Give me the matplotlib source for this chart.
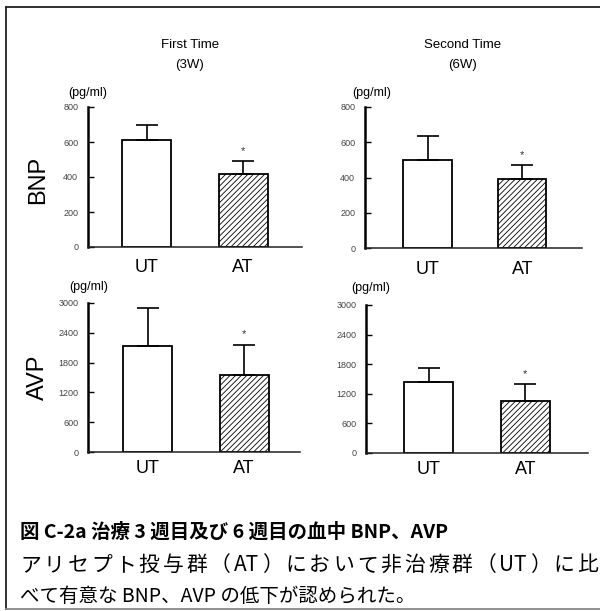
import matplotlib
matplotlib.use("Agg")
import matplotlib.pyplot as plt
from matplotlib.lines import Line2D

# Data
groups = ["UT", "AT"]
bnp_3w = [610, 420]
bnp_3w_sd = [85, 70]
bnp_6w = [497, 389]
bnp_6w_sd = [137, 80]
avp_3w = [2140, 1550]
avp_3w_sd = [750, 610]
avp_6w = [1430, 1060]
avp_6w_sd = [300, 330]

bnp_ticks = [0, 200, 400, 600, 800]
avp_ticks = [0, 600, 1200, 1800, 2400, 3000]

caption_title = "図 C-2a 治療 3 週目及び 6 週目の血中 BNP、AVP"
caption_body_1 = ["ア", "リ", "セ", "プ", "ト", "投", "与", "群", "（", "AT", "）",
                  "に", "お", "い", "て", "非", "治", "療", "群", "（", "UT", "）",
                  "に", "比"]
caption_body_2 = "べて有意な BNP、AVP の低下が認められた。"

plt.rcParams["font.family"] = ["Liberation Sans", "DejaVu Sans"]
plt.rcParams["hatch.color"] = "#555555"
plt.rcParams["hatch.linewidth"] = 0.6

W, H = 600, 611
fig = plt.figure(figsize=(W / 100, H / 100), dpi=100)


def px_axes(x0, x1, ytop, ybot):
    return fig.add_axes([x0 / W, (H - ybot) / H, (x1 - x0) / W, (ybot - ytop) / H])


def panel(ax, vals, sds, ticks, xlim, label_pad):
    ymax = ticks[-1]
    ax.bar([0], [vals[0]], width=0.51, color="white", edgecolor="black", linewidth=1.3)
    ax.bar([1], [vals[1]], width=0.51, color="white", edgecolor="black", linewidth=1.3,
           hatch="//////")
    ax.errorbar([0, 1], vals, yerr=[[0, 0], sds], fmt="none", ecolor="black",
                elinewidth=1.2, capsize=8, capthick=1.2)
    ax.text(1, vals[1] + sds[1] + ymax * 0.035, "*", ha="center", va="bottom",
            fontsize=8, color="#333333")
    ax.set_ylim(0, ymax)
    ax.set_xlim(*xlim)
    ax.set_yticks(ticks)
    ax.set_yticklabels([str(t) for t in ticks])
    ax.set_xticks([0, 1])
    ax.set_xticklabels(groups, fontsize=13)
    ax.tick_params(axis="x", length=0, pad=label_pad)
    ax.tick_params(axis="y", direction="in", length=4, width=1.0, pad=7,
                   labelsize=6.5, labelcolor="#444444")
    for s in ("top", "right"):
        ax.spines[s].set_visible(False)
    ax.spines["left"].set_linewidth(1.8)
    ax.spines["bottom"].set_linewidth(1.1)
    ax.spines["bottom"].set_color("#222222")
    ax.patch.set_alpha(0)


ax1 = px_axes(88, 302, 107, 247)
panel(ax1, bnp_3w, bnp_3w_sd, bnp_ticks, (-0.61, 1.61), 9)
ax2 = px_axes(365, 582, 107, 248)
panel(ax2, bnp_6w, bnp_6w_sd, bnp_ticks, (-0.66, 1.63), 9)
ax3 = px_axes(88, 300, 303, 452)
panel(ax3, avp_3w, avp_3w_sd, avp_ticks, (-0.62, 1.58), 6)
ax4 = px_axes(366, 588, 305, 453)
panel(ax4, avp_6w, avp_6w_sd, avp_ticks, (-0.65, 1.65), 6)


def ftext(x, y, s, **kw):
    return fig.text(x / W, 1 - y / H, s, **kw)


# Column headings
ftext(190, 45, "First Time", ha="center", va="center", fontsize=9.5)
ftext(190, 65, "(3W)", ha="center", va="center", fontsize=9.5)
ftext(463, 45, "Second Time", ha="center", va="center", fontsize=9.5)
ftext(463, 65, "(6W)", ha="center", va="center", fontsize=9.5)

# Units
for x, y in [(88, 93), (372, 93), (89, 287), (371, 288)]:
    ftext(x, y, "(pg/ml)", ha="center", va="center", fontsize=9)

# Row labels
ftext(38, 180, "BNP", ha="center", va="center", rotation=90, fontsize=17)
ftext(38, 377, "AVP", ha="center", va="center", rotation=90, fontsize=17)

# Caption
cjk = ["Noto Sans CJK JP", "DejaVu Sans"]
cap_size = 14
ftext(20, 532, caption_title, ha="left", va="center",
      fontsize=cap_size, fontweight="bold", family=cjk)
ftext(20, 597, caption_body_2, ha="left", va="center", fontsize=cap_size, family=cjk)

# Justified middle line: spread the glyphs evenly across the caption width
renderer = fig.canvas.get_renderer()
pieces = [ftext(0, 565, tok, ha="left", va="center", fontsize=15, family=cjk)
          for tok in caption_body_1]
widths = [p.get_window_extent(renderer).width for p in pieces]
left_px, right_px = 20, 598
gap = (right_px - left_px - sum(widths)) / (len(pieces) - 1)
x = left_px
for p, w in zip(pieces, widths):
    p.set_x(x / W)
    x += w + gap

# Frame
for xs, ys, c in [((6, 600), (7, 7), "#222222"), ((6, 6), (7, 609), "#222222"),
                  ((6, 600), (609, 609), "#888888")]:
    fig.add_artist(Line2D([xs[0] / W, xs[1] / W], [1 - ys[0] / H, 1 - ys[1] / H],
                          transform=fig.transFigure, color=c, linewidth=1.3))

fig.savefig("out.png", dpi=100, facecolor="white")
